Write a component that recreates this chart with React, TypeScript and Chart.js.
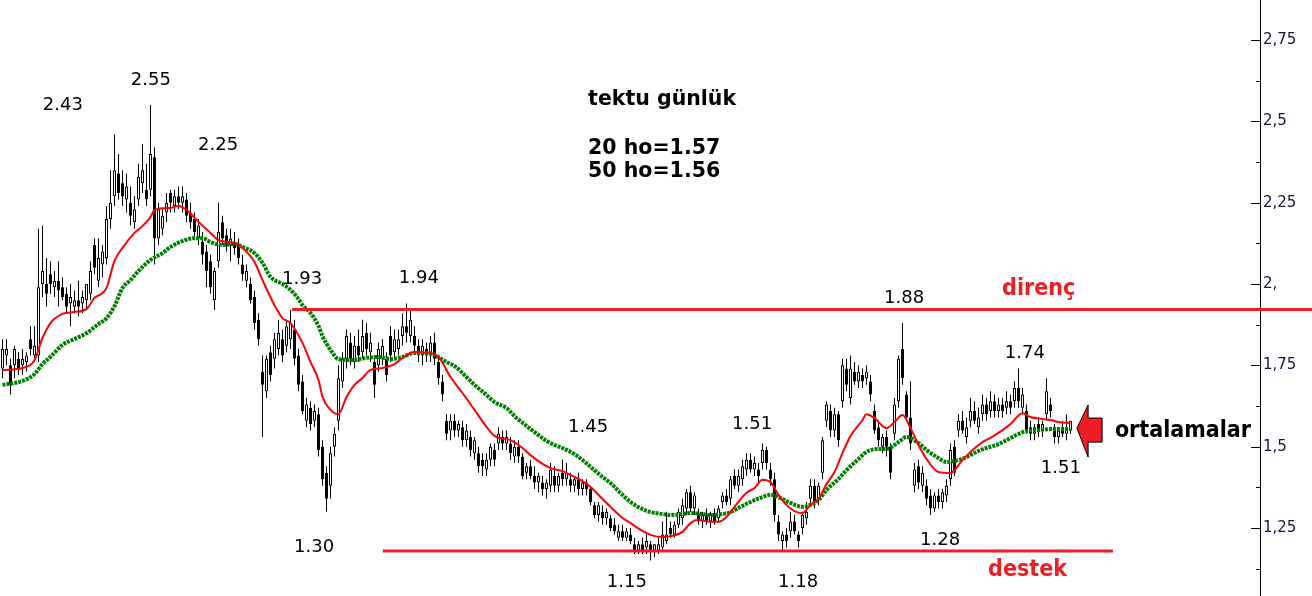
import React, { useEffect, useRef } from 'react';
import { Chart, registerables } from 'chart.js';

Chart.register(...registerables);

// ---- daily candles (index 0..267) ----
const opens = [
  1.74,1.78,1.75,1.75,1.77,1.75,1.76,1.83,1.78,1.78,
  2.00,2.00,2.03,1.99,2.01,1.99,1.97,1.94,1.93,1.95,
  1.94,1.95,1.97,2.12,2.01,2.06,2.08,2.20,2.27,2.34,
  2.31,2.26,2.25,2.19,2.26,2.31,2.29,2.29,2.39,2.14,
  2.17,2.22,2.28,2.24,2.27,2.25,2.26,2.22,2.20,2.14,
  2.13,2.10,2.07,1.95,2.07,2.19,2.15,2.12,2.13,2.12,
  2.06,2.01,2.00,1.96,1.89,1.73,1.67,1.79,1.77,1.80,
  1.83,1.81,1.83,1.86,1.78,1.70,1.58,1.62,1.58,1.60,
  1.50,1.42,1.38,1.50,1.58,1.70,1.77,1.82,1.76,1.81,
  1.79,1.85,1.79,1.76,1.75,1.77,1.77,1.84,1.79,1.80,
  1.84,1.87,1.84,1.84,1.81,1.78,1.80,1.78,1.82,1.76,
  1.70,1.58,1.55,1.58,1.55,1.56,1.52,1.53,1.48,1.48,
  1.46,1.43,1.46,1.49,1.51,1.53,1.51,1.51,1.47,1.50,
  1.47,1.42,1.44,1.41,1.39,1.39,1.37,1.38,1.41,1.38,
  1.42,1.40,1.40,1.38,1.40,1.37,1.39,1.37,1.32,1.29,
  1.30,1.28,1.28,1.26,1.22,1.24,1.22,1.23,1.20,1.18,
  1.20,1.19,1.20,1.18,1.18,1.19,1.21,1.25,1.23,1.26,
  1.28,1.31,1.36,1.31,1.29,1.27,1.29,1.27,1.29,1.28,
  1.33,1.35,1.34,1.41,1.38,1.40,1.43,1.46,1.43,1.43,
  1.45,1.49,1.43,1.40,1.27,1.21,1.23,1.24,1.27,1.23,
  1.25,1.28,1.34,1.38,1.34,1.42,1.58,1.61,1.55,1.60,
  1.64,1.74,1.65,1.73,1.70,1.72,1.71,1.70,1.61,1.56,
  1.50,1.53,1.50,1.54,1.64,1.80,1.66,1.59,1.38,1.44,
  1.38,1.38,1.35,1.31,1.35,1.33,1.35,1.40,1.50,1.55,
  1.58,1.53,1.58,1.61,1.56,1.60,1.63,1.61,1.64,1.61,
  1.63,1.62,1.64,1.64,1.68,1.62,1.61,1.56,1.54,1.57,
  1.55,1.60,1.63,1.55,1.53,1.56,1.54,1.55,
];
const highs = [
  1.83,1.83,1.77,1.81,1.79,1.80,1.79,1.87,1.87,2.17,
  2.18,2.08,2.07,2.04,2.07,2.02,1.99,2.00,1.98,2.01,
  1.98,2.00,2.07,2.14,2.14,2.12,2.24,2.35,2.46,2.40,
  2.35,2.34,2.30,2.27,2.37,2.43,2.37,2.55,2.42,2.25,
  2.23,2.28,2.29,2.29,2.30,2.30,2.28,2.25,2.22,2.20,
  2.16,2.12,2.09,2.05,2.25,2.21,2.17,2.17,2.16,2.14,
  2.09,2.06,2.02,1.98,1.91,1.78,1.78,1.81,1.85,1.89,
  1.86,1.89,1.92,1.89,1.80,1.72,1.65,1.64,1.63,1.62,
  1.52,1.44,1.50,1.56,1.75,1.79,1.86,1.85,1.84,1.86,
  1.89,1.88,1.85,1.78,1.82,1.83,1.79,1.87,1.86,1.86,
  1.91,1.94,1.92,1.87,1.83,1.83,1.82,1.84,1.85,1.78,
  1.72,1.60,1.60,1.60,1.58,1.58,1.57,1.55,1.53,1.50,
  1.48,1.48,1.51,1.51,1.56,1.55,1.55,1.53,1.52,1.52,
  1.48,1.45,1.46,1.44,1.42,1.41,1.40,1.45,1.44,1.42,
  1.46,1.45,1.42,1.41,1.42,1.40,1.40,1.38,1.33,1.33,
  1.32,1.31,1.29,1.28,1.26,1.26,1.25,1.25,1.22,1.21,
  1.22,1.23,1.21,1.20,1.22,1.27,1.30,1.27,1.27,1.31,
  1.34,1.37,1.38,1.36,1.31,1.30,1.31,1.30,1.31,1.32,
  1.36,1.37,1.41,1.43,1.43,1.46,1.48,1.48,1.47,1.45,
  1.51,1.50,1.45,1.42,1.29,1.24,1.25,1.30,1.29,1.24,
  1.30,1.33,1.40,1.40,1.39,1.53,1.64,1.63,1.62,1.61,
  1.77,1.77,1.78,1.76,1.75,1.74,1.75,1.72,1.63,1.58,
  1.54,1.55,1.51,1.65,1.78,1.88,1.67,1.70,1.45,1.46,
  1.44,1.40,1.37,1.36,1.37,1.37,1.40,1.51,1.52,1.60,
  1.61,1.59,1.65,1.64,1.62,1.66,1.65,1.67,1.66,1.65,
  1.65,1.67,1.66,1.70,1.74,1.68,1.63,1.58,1.57,1.59,
  1.58,1.71,1.65,1.57,1.56,1.58,1.60,1.58,
];
const lows = [
  1.71,1.75,1.66,1.71,1.72,1.72,1.73,1.78,1.76,1.76,
  1.96,1.93,1.97,1.96,1.93,1.95,1.91,1.87,1.91,1.90,
  1.91,1.92,1.95,2.03,1.99,2.02,2.06,2.17,2.24,2.26,
  2.24,2.22,2.18,2.17,2.24,2.28,2.24,2.27,2.06,2.12,
  2.15,2.19,2.22,2.22,2.23,2.22,2.19,2.17,2.14,2.12,
  2.06,1.99,1.97,1.92,2.05,2.12,2.10,2.07,2.09,2.06,
  2.01,1.99,1.94,1.86,1.81,1.53,1.65,1.70,1.74,1.78,
  1.76,1.79,1.80,1.75,1.67,1.60,1.56,1.55,1.56,1.47,
  1.38,1.30,1.34,1.47,1.55,1.68,1.74,1.75,1.74,1.76,
  1.77,1.78,1.76,1.65,1.73,1.75,1.70,1.76,1.77,1.78,
  1.81,1.82,1.82,1.79,1.76,1.75,1.76,1.76,1.75,1.69,
  1.64,1.52,1.52,1.53,1.53,1.50,1.50,1.47,1.46,1.42,
  1.41,1.41,1.44,1.44,1.49,1.49,1.49,1.46,1.45,1.45,
  1.40,1.40,1.40,1.37,1.36,1.35,1.34,1.36,1.36,1.36,
  1.38,1.38,1.36,1.36,1.35,1.35,1.35,1.32,1.28,1.27,
  1.26,1.26,1.24,1.23,1.21,1.21,1.21,1.20,1.17,1.17,
  1.17,1.17,1.15,1.16,1.17,1.18,1.20,1.22,1.22,1.25,
  1.26,1.29,1.30,1.29,1.26,1.25,1.26,1.25,1.26,1.27,
  1.31,1.32,1.32,1.37,1.36,1.38,1.41,1.42,1.41,1.39,
  1.43,1.43,1.38,1.27,1.21,1.18,1.19,1.22,1.23,1.19,
  1.23,1.26,1.32,1.31,1.32,1.40,1.56,1.53,1.53,1.50,
  1.62,1.67,1.63,1.69,1.68,1.68,1.69,1.64,1.54,1.50,
  1.48,1.47,1.40,1.52,1.62,1.69,1.58,1.49,1.36,1.37,
  1.36,1.32,1.29,1.30,1.31,1.31,1.33,1.38,1.41,1.53,
  1.54,1.51,1.56,1.57,1.54,1.58,1.58,1.59,1.59,1.59,
  1.59,1.60,1.60,1.62,1.62,1.60,1.54,1.52,1.52,1.53,
  1.53,1.58,1.59,1.51,1.51,1.53,1.52,1.54,
];
const closes = [
  1.80,1.80,1.69,1.80,1.74,1.77,1.78,1.80,1.81,1.99,
  2.04,1.97,2.00,2.01,1.98,1.96,1.93,1.96,1.95,1.93,
  1.96,2.00,2.04,2.05,2.08,2.10,2.20,2.25,2.35,2.28,
  2.27,2.30,2.21,2.23,2.33,2.35,2.26,2.40,2.14,2.23,
  2.21,2.25,2.25,2.27,2.25,2.27,2.21,2.19,2.16,2.18,
  2.09,2.04,1.99,2.04,2.16,2.14,2.12,2.14,2.11,2.08,
  2.03,2.04,1.95,1.88,1.83,1.69,1.77,1.72,1.83,1.85,
  1.78,1.87,1.88,1.77,1.69,1.61,1.63,1.57,1.61,1.49,
  1.40,1.34,1.48,1.54,1.71,1.77,1.84,1.77,1.81,1.78,
  1.84,1.80,1.82,1.69,1.80,1.81,1.72,1.78,1.83,1.83,
  1.87,1.85,1.89,1.81,1.78,1.81,1.78,1.82,1.77,1.71,
  1.66,1.54,1.58,1.55,1.57,1.52,1.55,1.49,1.52,1.44,
  1.44,1.46,1.50,1.46,1.54,1.51,1.53,1.48,1.50,1.47,
  1.41,1.44,1.41,1.39,1.41,1.37,1.39,1.43,1.38,1.41,
  1.40,1.42,1.38,1.40,1.37,1.39,1.37,1.33,1.29,1.32,
  1.28,1.30,1.25,1.24,1.24,1.22,1.24,1.21,1.18,1.20,
  1.18,1.21,1.18,1.20,1.20,1.23,1.23,1.23,1.26,1.30,
  1.32,1.36,1.31,1.35,1.27,1.29,1.27,1.29,1.27,1.31,
  1.35,1.33,1.40,1.38,1.41,1.44,1.46,1.43,1.45,1.41,
  1.49,1.45,1.40,1.29,1.23,1.23,1.21,1.27,1.24,1.21,
  1.29,1.30,1.38,1.33,1.38,1.52,1.63,1.55,1.60,1.52,
  1.75,1.69,1.74,1.70,1.73,1.70,1.73,1.66,1.55,1.52,
  1.53,1.50,1.42,1.63,1.77,1.71,1.59,1.51,1.43,1.39,
  1.42,1.34,1.31,1.35,1.33,1.36,1.38,1.49,1.42,1.58,
  1.55,1.56,1.61,1.58,1.59,1.63,1.60,1.64,1.61,1.63,
  1.61,1.64,1.62,1.68,1.64,1.66,1.55,1.54,1.56,1.55,
  1.57,1.67,1.61,1.53,1.55,1.54,1.56,1.58,
];

// ---- moving averages (candle index, value) ----
const ma20Index = [0,5,8,10,12,15,18,21,23,25,26,28,30,33,35,37,38,42,44,46,49,52,54,58,60,63,65,68,70,72,75,77,79,80,82,84,86,88,90,92,95,98,100,103,106,109,112,115,118,121,123,127,130,132,135,137,140,142,145,147,150,152,155,157,160,162,165,167,170,172,174,177,179,181,183,186,188,190,192,194,196,198,200,202,204,206,208,210,212,215,216,218,221,223,225,227,229,231,234,237,240,242,245,247,250,252,255,257,260,262,264,267];
const ma20Values = [1.736,1.742,1.766,1.834,1.880,1.908,1.914,1.923,1.957,1.972,1.988,2.071,2.111,2.157,2.178,2.206,2.228,2.234,2.240,2.228,2.191,2.157,2.135,2.126,2.111,2.068,2.012,1.935,1.895,1.880,1.819,1.760,1.705,1.653,1.613,1.600,1.653,1.690,1.711,1.736,1.742,1.754,1.773,1.791,1.788,1.776,1.714,1.665,1.613,1.561,1.533,1.520,1.496,1.474,1.447,1.434,1.425,1.413,1.394,1.376,1.339,1.315,1.281,1.265,1.241,1.229,1.222,1.225,1.238,1.265,1.275,1.269,1.269,1.284,1.315,1.358,1.373,1.398,1.391,1.352,1.321,1.302,1.296,1.321,1.339,1.385,1.422,1.481,1.533,1.582,1.600,1.588,1.557,1.576,1.597,1.557,1.505,1.462,1.422,1.419,1.459,1.484,1.514,1.527,1.551,1.570,1.603,1.591,1.585,1.582,1.576,1.573];
const ma50Index = [0,5,8,10,12,15,18,21,24,26,28,30,32,34,37,40,42,45,48,50,52,55,58,60,63,65,67,70,72,74,75,77,79,80,82,84,87,91,94,97,100,103,106,108,111,113,116,118,121,123,126,128,131,133,136,138,140,143,145,147,150,152,155,157,160,162,165,167,170,172,175,177,180,182,185,187,190,192,195,197,200,202,204,206,209,211,214,216,219,221,224,226,229,231,234,236,239,241,244,246,249,251,254,256,259,262,265,267];
const ma50Values = [1.690,1.702,1.723,1.754,1.776,1.813,1.831,1.849,1.877,1.895,1.932,1.988,2.012,2.040,2.074,2.095,2.114,2.132,2.141,2.141,2.129,2.120,2.123,2.114,2.095,2.065,2.022,2.000,1.982,1.954,1.935,1.911,1.871,1.840,1.797,1.769,1.766,1.773,1.776,1.769,1.776,1.788,1.788,1.782,1.760,1.748,1.714,1.690,1.659,1.637,1.619,1.594,1.564,1.545,1.518,1.505,1.496,1.477,1.459,1.438,1.407,1.388,1.352,1.330,1.308,1.299,1.293,1.290,1.293,1.296,1.293,1.290,1.293,1.299,1.318,1.330,1.345,1.352,1.339,1.327,1.315,1.321,1.336,1.367,1.401,1.428,1.462,1.484,1.493,1.493,1.514,1.530,1.511,1.490,1.465,1.453,1.459,1.468,1.487,1.496,1.508,1.520,1.539,1.548,1.551,1.554,1.554,1.554];

// ---- resistance / support ----
const resistanceLevel = 1.922;
const resistanceSpan = [72.4, 327.4];
const supportLevel = 1.179;
const supportSpan = [95.1, 277.6];

// ---- x range (candle index units) ----
const xMin = -0.625;
const xMax = 314.375;

// ---- axis ticks ----
const majorTicks = [1.25, 1.5, 1.75, 2, 2.25, 2.5, 2.75];
const majorTickLabels = ['1,25', '1,5', '1,75', '2,', '2,25', '2,5', '2,75'];
const minorTicks = [1.125, 1.375, 1.625, 1.875, 2.125, 2.375, 2.625];

// ---- annotations (anchored in data units) ----
const priceLabels = ['2.43', '2.55', '2.25', '1.93', '1.94', '1.30', '1.45', '1.51', '1.15', '1.18', '1.88', '1.74', '1.28', '1.51'];
const priceLabelX = [15.1, 37.1, 53.9, 74.9, 104.1, 77.9, 146.4, 187.4, 156.1, 198.9, 225.4, 255.6, 234.4, 264.6];
const priceLabelY = [2.535, 2.612, 2.412, 2.0, 2.003, 1.176, 1.545, 1.554, 1.069, 1.069, 1.942, 1.773, 1.198, 1.419];
const titleLines = ['tektu günlük', '20 ho=1.57', '50 ho=1.56'];
const titleX = 146.4;
const titleY = [2.550, 2.400, 2.329];
const zoneLabels = ['direnç', 'destek'];
const zoneLabelX = [249.9, 246.4];
const zoneLabelY = [1.966, 1.102];
const maLabel = 'ortalamalar';
const maLabelX = 278.1;
const maLabelY = 1.530;
const arrowX = [268.6, 271.4, 271.4, 274.9, 274.9, 271.4, 271.4];
const arrowY = [1.557, 1.628, 1.588, 1.588, 1.514, 1.514, 1.468];

const RED = '#ee1c25';

const overlayPlugin = {
  id: 'overlay',
  afterDatasetsDraw(chart: any) {
    const { ctx, chartArea } = chart;
    const xs = chart.scales.x;
    const ys = chart.scales.y;
    ctx.save();
    // inward tick marks on the right axis
    ctx.strokeStyle = '#000';
    ctx.lineWidth = 1;
    ctx.beginPath();
    const right = chartArea.right;
    majorTicks.forEach((v) => {
      const py = Math.round(ys.getPixelForValue(v)) + 0.5;
      ctx.moveTo(right - 9, py);
      ctx.lineTo(right, py);
    });
    minorTicks.forEach((v) => {
      const py = Math.round(ys.getPixelForValue(v)) + 0.5;
      ctx.moveTo(right - 4, py);
      ctx.lineTo(right, py);
    });
    ctx.stroke();

    // price labels
    ctx.fillStyle = '#000';
    ctx.font = "18px 'DejaVu Sans'";
    ctx.textAlign = 'center';
    ctx.textBaseline = 'alphabetic';
    priceLabels.forEach((t, k) => {
      ctx.fillText(t, xs.getPixelForValue(priceLabelX[k]), ys.getPixelForValue(priceLabelY[k]));
    });

    // title block
    ctx.font = "bold 20.5px 'DejaVu Sans'";
    ctx.textAlign = 'left';
    titleLines.forEach((t, k) => {
      ctx.fillText(t, xs.getPixelForValue(titleX), ys.getPixelForValue(titleY[k]));
    });

    // zone labels
    ctx.font = "bold 23px 'DejaVu Sans Condensed', 'DejaVu Sans'";
    ctx.fillStyle = RED;
    zoneLabels.forEach((t, k) => {
      ctx.fillText(t, xs.getPixelForValue(zoneLabelX[k]), ys.getPixelForValue(zoneLabelY[k]));
    });

    // arrow
    ctx.beginPath();
    arrowX.forEach((vx, k) => {
      const px = xs.getPixelForValue(vx);
      const py = ys.getPixelForValue(arrowY[k]);
      if (k === 0) ctx.moveTo(px, py); else ctx.lineTo(px, py);
    });
    ctx.closePath();
    ctx.fillStyle = RED;
    ctx.fill();
    ctx.strokeStyle = '#000';
    ctx.lineWidth = 1;
    ctx.stroke();

    // ma label
    ctx.fillStyle = '#000';
    ctx.font = "bold 23px 'DejaVu Sans Condensed', 'DejaVu Sans'";
    ctx.fillText(maLabel, xs.getPixelForValue(maLabelX), ys.getPixelForValue(maLabelY));
    ctx.restore();
  },
};

export default function App() {
  const canvasRef = useRef<HTMLCanvasElement | null>(null);

  useEffect(() => {
    if (!canvasRef.current) return;
    const bodies = opens.map((o, i) => ({ x: i, y: [Math.min(o, closes[i]), Math.max(o, closes[i])] }));
    const bodyColors = opens.map((o, i) => (closes[i] >= o ? '#ffffff' : '#000000'));
    const wicks = lows.map((l, i) => ({ x: i, y: [l, highs[i]] }));
    const ma20 = ma20Index.map((ix, k) => ({ x: ix, y: ma20Values[k] }));
    const ma50 = ma50Index.map((ix, k) => ({ x: ix, y: ma50Values[k] }));

    const chart = new Chart(canvasRef.current, {
      type: 'bar',
      data: {
        datasets: [
          {
            type: 'line',
            label: 'direnç',
            data: [{ x: resistanceSpan[0], y: resistanceLevel }, { x: resistanceSpan[1], y: resistanceLevel }],
            borderColor: RED,
            borderWidth: 3,
            pointRadius: 0,
            clip: false,
            order: 0,
          } as any,
          {
            type: 'line',
            label: 'destek',
            data: [{ x: supportSpan[0], y: supportLevel }, { x: supportSpan[1], y: supportLevel }],
            borderColor: RED,
            borderWidth: 3,
            pointRadius: 0,
            clip: false,
            order: 0,
          } as any,
          {
            type: 'line',
            label: '20 ho',
            data: ma20,
            borderColor: '#ff0000',
            borderWidth: 2,
            pointRadius: 0,
            cubicInterpolationMode: 'monotone',
            order: 1,
          } as any,
          {
            type: 'line',
            label: '50 ho',
            data: ma50,
            borderColor: '#008000',
            borderWidth: 4,
            borderDash: [3, 1],
            borderCapStyle: 'butt',
            pointRadius: 0,
            cubicInterpolationMode: 'monotone',
            order: 2,
          } as any,
          {
            type: 'bar',
            label: 'body',
            data: bodies,
            backgroundColor: bodyColors,
            borderColor: '#000000',
            borderWidth: 1,
            borderSkipped: false,
            barThickness: 3,
            grouped: false,
            inflateAmount: 0,
            order: 3,
          } as any,
          {
            type: 'bar',
            label: 'wick',
            data: wicks,
            backgroundColor: '#000000',
            borderWidth: 0,
            barThickness: 1,
            grouped: false,
            inflateAmount: 0,
            order: 4,
          } as any,
        ],
      },
      options: {
        animation: false,
        responsive: false,
        devicePixelRatio: 1,
        layout: { padding: 0 },
        plugins: { legend: { display: false }, tooltip: { enabled: false } },
        scales: {
          x: {
            type: 'linear',
            min: xMin,
            max: xMax,
            offset: false,
            bounds: 'ticks',
            display: false,
            grid: { offset: false },
            afterDataLimits: (scale: any) => {
              scale.min = xMin;
              scale.max = xMax;
            },
          },
          y: {
            type: 'linear',
            position: 'right',
            min: 1.041,
            max: 2.873,
            grid: { display: false, drawTicks: false },
            border: { display: true, color: '#000', width: 1 },
            ticks: {
              autoSkip: false,
              padding: 3,
              color: '#14143c',
              font: { family: 'DejaVu Sans', size: 15 },
              callback: (v: any) => {
                const k = majorTicks.indexOf(Number(v));
                return k >= 0 ? majorTickLabels[k] : '';
              },
            },
            afterBuildTicks: (scale: any) => {
              scale.ticks = [...minorTicks, ...majorTicks].sort((a, b) => a - b).map((v) => ({ value: v }));
            },
            afterFit: (scale: any) => {
              scale.width = 52;
              scale.paddingTop = 0;
              scale.paddingBottom = 0;
            },
          },
        },
      } as any,
      plugins: [overlayPlugin],
    });
    return () => chart.destroy();
  }, []);

  return (
    <div style={{ position: 'absolute', left: 0, top: 0, width: 1312, height: 596, background: '#fff' }}>
      <canvas ref={canvasRef} width={1312} height={596} style={{ display: 'block', width: 1312, height: 596 }} />
    </div>
  );
}
